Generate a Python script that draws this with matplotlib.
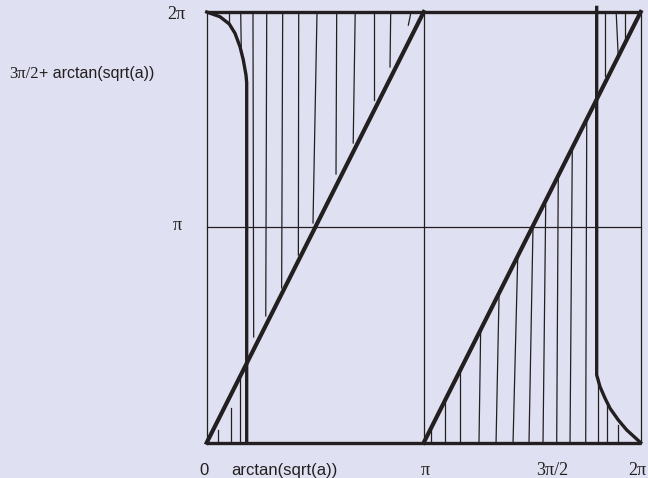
import numpy as np
from matplotlib import pyplot as plt

TWO_PI = 2 * np.pi

# Thin strokes hanging down from the top edge: x at the top, x at the lower end, lower end height.
drop_x_top = [0.327, 0.492, 0.670, 0.869, 1.100, 1.332, 1.597, 1.882, 2.150, 2.422,
              2.664, 2.958, 5.767, 5.928, 6.050]
drop_x_end = [0.327, 0.500, 0.680, 0.855, 1.085, 1.327, 1.539, 1.872, 2.121, 2.422,
              2.654, 2.919, 5.767, 5.957, 6.050]
drop_y_end = [6.108, 5.777, 1.542, 1.848, 2.257, 2.738, 3.206, 3.920, 4.372, 4.999,
              5.481, 6.091, 5.347, 5.656, 5.873]

# Thin strokes rising from the bottom edge: x at the bottom, x at the upper end, upper end height.
rise_x_bot = [0.168, 0.352, 0.482, 3.243, 3.450, 3.668, 3.942, 4.189, 4.435, 4.666,
              4.869, 5.067, 5.260, 5.487, 5.670, 5.791, 5.959]
rise_x_end = [0.168, 0.352, 0.482, 3.243, 3.450, 3.668, 3.967, 4.233, 4.503, 4.724,
              4.908, 5.090, 5.293, 5.502, 5.670, 5.791, 5.959]
rise_y_end = [0.185, 0.506, 0.944, 0.225, 0.623, 1.090, 1.692, 2.184, 2.713, 3.151,
              3.470, 3.891, 4.299, 4.708, 0.944, 0.550, 0.258]

# Thick bend from the top-left corner down to the vertical at arctan(sqrt(a)).
left_curve_x = [0.0, 0.193, 0.327, 0.410, 0.482, 0.530, 0.569, 0.579, 0.579]
left_curve_y = [TWO_PI, 6.214, 6.108, 5.972, 5.777, 5.583, 5.364, 5.250, 0.0]

# Thick bend from the bottom-right corner up to the vertical near 2pi - arctan(sqrt(a)).
right_curve_x = [5.646, 5.646, 5.646, 5.694, 5.767, 5.839, 5.959, 6.081, TWO_PI]
right_curve_y = [6.350, 1.100, 0.988, 0.817, 0.648, 0.502, 0.331, 0.185, 0.0]

x_labels = ['0', 'arctan(sqrt(a))', '\u03c0', '3\u03c0/2', '2\u03c0']
y_labels = ['\u03c0', '2\u03c0']
side_label = ['3\u03c0/2', '+ arctan(sqrt(a))']

ink = '#231f20'
bg = '#dfe0f1'

fig = plt.figure(figsize=(6.48, 4.78), dpi=100, facecolor=bg)
ax = fig.add_axes([206.7 / 648, 35.3 / 478, 434 / 648, 430.7 / 478])
ax.set_xlim(0, TWO_PI)
ax.set_ylim(0, TWO_PI)
ax.axis('off')

# Frame: thin verticals at 0, pi, 2pi and thin horizontal at pi
for xv in [0, np.pi, TWO_PI]:
    ax.plot([xv, xv], [0, TWO_PI], color=ink, lw=0.9, clip_on=False)
ax.plot([0, TWO_PI], [np.pi, np.pi], color=ink, lw=0.9, clip_on=False)

# Hatching strokes
for x0, x1, y1 in zip(drop_x_top, drop_x_end, drop_y_end):
    ax.plot([x0, x1], [TWO_PI, y1], color=ink, lw=0.9, clip_on=False)
for x0, x1, y1 in zip(rise_x_bot, rise_x_end, rise_y_end):
    ax.plot([x0, x1], [0, y1], color=ink, lw=0.9, clip_on=False)

# Thick top and bottom edges
ax.plot([0, TWO_PI], [0, 0], color=ink, lw=2.4, clip_on=False, solid_capstyle='butt')
ax.plot([0, TWO_PI], [TWO_PI, TWO_PI], color=ink, lw=2.4, clip_on=False, solid_capstyle='butt')

# Thick diagonals y = 2x and y = 2x - 2pi
ax.plot([0, np.pi], [0, TWO_PI], color=ink, lw=3.0, clip_on=False)
ax.plot([np.pi, TWO_PI], [0, TWO_PI], color=ink, lw=3.0, clip_on=False)

# Thick bends
ax.plot(left_curve_x, left_curve_y, color=ink, lw=2.4, clip_on=False)
ax.plot(right_curve_x, right_curve_y, color=ink, lw=2.4, clip_on=False)

# Axis labels
serif = 'Liberation Serif'
sans = 'Liberation Sans'
ly = -0.40
ax.text(-0.04, ly, x_labels[0], family=sans, fontsize=12, ha='center', va='center', color=ink)
ax.text(1.13, ly, x_labels[1], family=sans, fontsize=12, ha='center', va='center', color=ink)
ax.text(3.17, ly, x_labels[2], family=serif, fontsize=13, ha='center', va='center', color=ink)
ax.text(5.00, ly, x_labels[3], family=serif, fontsize=13, ha='center', va='center', color=ink)
ax.text(6.23, ly, x_labels[4], family=serif, fontsize=13, ha='center', va='center', color=ink)

ax.text(-0.36, np.pi + 0.02, y_labels[0], family=serif, fontsize=13, ha='right', va='center', color=ink)
ax.text(-0.31, TWO_PI - 0.04, y_labels[1], family=serif, fontsize=13, ha='right', va='center', color=ink)

# Side label: serif 3pi/2 followed by the sans part, sharing one baseline
side_y = 5.32
tail = ax.text(-0.76, side_y, side_label[1], family=sans, fontsize=11.5,
               ha='right', va='baseline', color=ink)
fig.canvas.draw()
tail_left = ax.transData.inverted().transform((tail.get_window_extent().x0, 0))[0]
ax.text(tail_left, side_y, side_label[0], family=serif, fontsize=12,
        ha='right', va='baseline', color=ink)

fig.savefig('out.png', dpi=100, facecolor=bg)
